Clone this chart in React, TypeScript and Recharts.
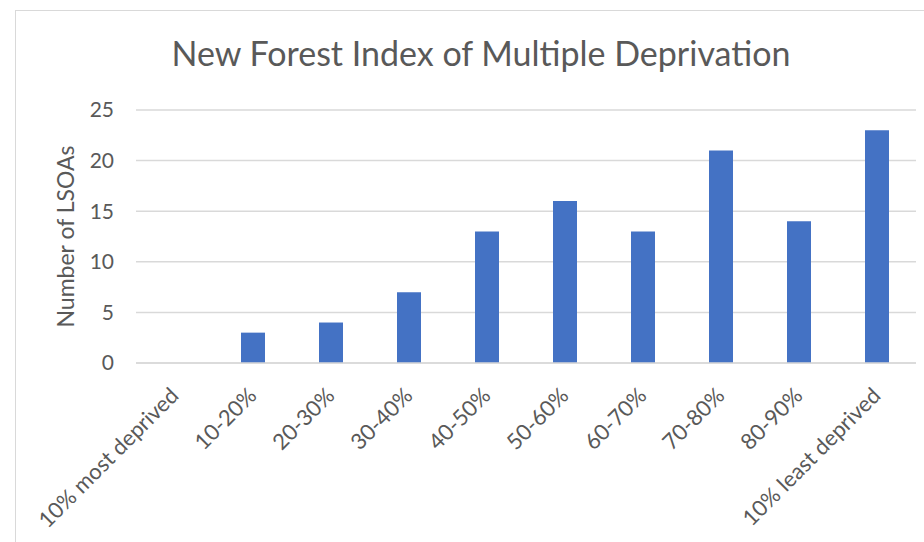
import { BarChart, Bar, XAxis, YAxis, CartesianGrid } from 'recharts'

const categories = [
  '10% most deprived',
  '10-20%',
  '20-30%',
  '30-40%',
  '40-50%',
  '50-60%',
  '60-70%',
  '70-80%',
  '80-90%',
  '10% least deprived',
]
const lsoaCounts = [0, 3, 4, 7, 13, 16, 13, 21, 14, 23]
const yTicks = [0, 5, 10, 15, 20, 25]

const data = categories.map((band, i) => ({ band, count: lsoaCounts[i] }))

const FONT = 'Lato, "Open Sans", sans-serif'
const TEXT = '#595959'
const GRID = '#d9d9d9'

// rotated category label, anchored at its end just under the tick
function AngledTick(props: any) {
  const { x, y, payload } = props
  return (
    <g transform={`translate(${x + 5},${y + 26})`}>
      <text transform="rotate(-45)" textAnchor="end" fill={TEXT} fontSize={22} fontFamily={FONT}>
        {payload.value}
      </text>
    </g>
  )
}

function YTitle(props: any) {
  const { viewBox } = props
  const cx = viewBox.x + 65
  const cy = viewBox.y + viewBox.height / 2
  return (
    <text
      x={cx}
      y={cy}
      transform={`rotate(-90 ${cx} ${cy})`}
      textAnchor="middle"
      dominantBaseline="central"
      fill={TEXT}
      fontSize={23}
      fontFamily={FONT}
    >
      Number of LSOAs
    </text>
  )
}

export default function App() {
  return (
    <div style={{ position: 'absolute', left: 0, top: 0, width: 924, height: 542, overflow: 'hidden', background: '#fff' }}>
      {/* chart frame, cropped on the right and bottom like the screenshot */}
      <div style={{ position: 'absolute', left: 15, top: 10, width: 960, height: 600, border: `1px solid ${GRID}` }} />
      <div
        style={{
          position: 'absolute', left: 0, top: 33, width: 962, textAlign: 'center',
          fontFamily: FONT, fontSize: 34, color: TEXT, lineHeight: '40px',
        }}
      >
        New Forest Index of Multiple Deprivation
      </div>
      <div style={{ position: 'absolute', left: 0, top: 0 }}>
        <BarChart width={924} height={542} data={data} margin={{ top: 110, right: 8, left: 0, bottom: 0 }}>
          <CartesianGrid vertical={false} stroke={GRID} strokeWidth={1.5} />
          <XAxis
            dataKey="band"
            interval={0}
            height={179}
            tickLine={false}
            axisLine={{ stroke: GRID, strokeWidth: 1.5 }}
            tick={<AngledTick />}
          />
          <YAxis
            width={136}
            domain={[0, 25]}
            ticks={yTicks}
            axisLine={false}
            tickLine={false}
            tickMargin={16}
            tick={{ fill: TEXT, fontSize: 21, fontFamily: FONT }}
            label={<YTitle />}
          />
          <Bar dataKey="count" fill="#4472c4" barSize={24} isAnimationActive={false} />
        </BarChart>
      </div>
    </div>
  )
}
